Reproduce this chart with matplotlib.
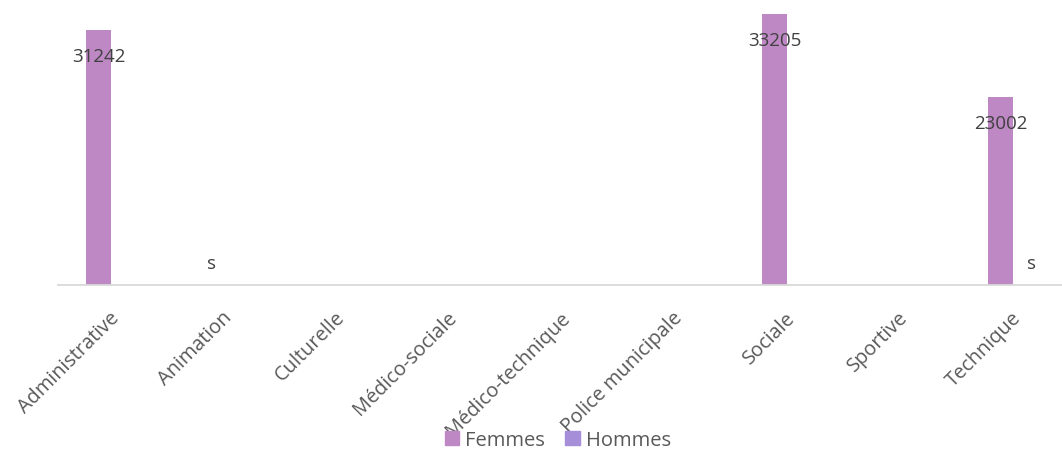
import numpy as np
import matplotlib
matplotlib.use("Agg")
import matplotlib.pyplot as plt
import matplotlib.transforms as mtransforms
from matplotlib.patches import Patch

categories = ["Administrative", "Animation", "Culturelle", "Médico-sociale",
              "Médico-technique", "Police municipale", "Sociale", "Sportive", "Technique"]
femmes = [31242, np.nan, np.nan, np.nan, np.nan, np.nan, 33205, np.nan, 23002]
hommes = [np.nan, np.nan, np.nan, np.nan, np.nan, np.nan, np.nan, np.nan, np.nan]
femmes_labels = ["31242", "s", "", "", "", "", "33205", "", "23002"]
hommes_labels = ["", "", "", "", "", "", "", "", "s"]

plt.rcParams['font.family'] = ['Open Sans', 'DejaVu Sans']

W, H = 1062, 452
fig = plt.figure(figsize=(W / 100, H / 100), dpi=100)
ax_left, ax_w, ax_bottom_px = 57.6, 1014.75, 286
ax = fig.add_axes([ax_left / W, (H - ax_bottom_px) / H, ax_w / W, ax_bottom_px / H])

c_f = '#BE88C4'
c_h = '#A68ED8'
x = np.arange(len(categories))
bw = 25 / 112.75
off = 15.5 / 112.75
ax.bar(x - off, femmes, bw, color=c_f)
ax.bar(x + off, hommes, bw, color=c_h)

ax.set_xlim(-0.5, len(categories) - 0.5)
ax.set_ylim(0, 35000)

for i in range(len(categories)):
    for vals, labs, sgn in ((femmes, femmes_labels, -1), (hommes, hommes_labels, 1)):
        lab = labs[i]
        if not lab:
            continue
        xp = x[i] + sgn * off
        v = vals[i]
        if np.isnan(v):
            ax.annotate(lab, (xp, 0), xytext=(0, 22 * 0.72), textcoords='offset points',
                        ha='center', va='center', fontsize=13.5, color='#404040')
        else:
            ax.annotate(lab, (xp, v), xytext=(0, -26 * 0.72), textcoords='offset points',
                        ha='center', va='center', fontsize=13.5, color='#404040')

for s in ['top', 'right', 'left']:
    ax.spines[s].set_visible(False)
ax.spines['bottom'].set_color('#D9D9D9')
ax.spines['bottom'].set_linewidth(1.3)
ax.set_yticks([])
ax.set_xticks(x)
ax.set_xticklabels(categories, rotation=45, ha='right', rotation_mode='anchor',
                   fontsize=14.3, color='#595959')
ax.tick_params(axis='x', length=0, pad=16)
shift = mtransforms.ScaledTranslation(-5 / 100, 0, fig.dpi_scale_trans)
for lbl in ax.get_xticklabels():
    lbl.set_transform(lbl.get_transform() + shift)

handles = [Patch(color=c_f, label='Femmes'), Patch(color=c_h, label='Hommes')]
leg = fig.legend(handles=handles, loc='center', bbox_to_anchor=(558 / W, 1 - 441 / H),
                 ncol=2, frameon=False, fontsize=14.5, handlelength=0.7, handleheight=0.7,
                 handletextpad=0.3, columnspacing=1.0, borderaxespad=0, borderpad=0)
for t in leg.get_texts():
    t.set_color('#595959')

fig.savefig('out.png', dpi=100)
